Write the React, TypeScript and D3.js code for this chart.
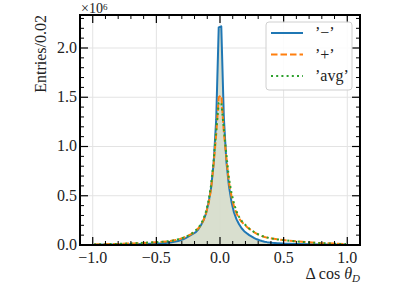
import { useEffect, useRef } from 'react';
import * as d3 from 'd3';

// bin centres (bin width 0.02), sparse in the flat tails
const xCentres = [
  -0.99, -0.9, -0.8, -0.7, -0.6, -0.5, -0.45,
  -0.41, -0.39, -0.37, -0.35, -0.33, -0.31, -0.29, -0.27, -0.25, -0.23, -0.21,
  -0.19, -0.17, -0.15, -0.13, -0.11, -0.09, -0.07, -0.05, -0.03, -0.01,
  0.01, 0.03, 0.05, 0.07, 0.09, 0.11, 0.13, 0.15, 0.17, 0.19, 0.21,
  0.23, 0.25, 0.27, 0.29, 0.31, 0.33, 0.35, 0.37, 0.39, 0.41,
  0.45, 0.5, 0.6, 0.7, 0.8, 0.9, 0.99,
];

// entries / 0.02, in units of 1e6
const minusVals = [
  0.003, 0.004, 0.005, 0.007, 0.01, 0.015, 0.018,
  0.022, 0.026, 0.03, 0.035, 0.041, 0.049, 0.058, 0.07, 0.085, 0.1, 0.115,
  0.13, 0.16, 0.2, 0.25, 0.32, 0.43, 0.58, 0.83, 1.27, 2.21,
  2.22, 1.3, 0.85, 0.6, 0.44, 0.33, 0.26, 0.21, 0.17, 0.14, 0.12,
  0.1, 0.085, 0.07, 0.058, 0.048, 0.04, 0.034, 0.029, 0.025, 0.022,
  0.018, 0.014, 0.01, 0.007, 0.005, 0.004, 0.003,
];
const plusVals = [
  0.006, 0.008, 0.011, 0.015, 0.021, 0.028, 0.032,
  0.037, 0.04, 0.045, 0.05, 0.056, 0.063, 0.072, 0.082, 0.094, 0.108, 0.125,
  0.145, 0.17, 0.2, 0.25, 0.32, 0.42, 0.57, 0.82, 1.12, 1.5,
  1.52, 1.15, 0.88, 0.64, 0.5, 0.39, 0.32, 0.27, 0.235, 0.21, 0.185,
  0.163, 0.145, 0.128, 0.113, 0.1, 0.09, 0.082, 0.075, 0.07, 0.065,
  0.058, 0.05, 0.037, 0.027, 0.019, 0.014, 0.01,
];
const avgVals = [
  0.006, 0.008, 0.011, 0.016, 0.022, 0.029, 0.033,
  0.038, 0.041, 0.046, 0.052, 0.058, 0.065, 0.074, 0.084, 0.096, 0.11, 0.128,
  0.15, 0.175, 0.21, 0.265, 0.34, 0.45, 0.61, 0.86, 1.16, 1.44,
  1.45, 1.18, 0.92, 0.68, 0.53, 0.42, 0.34, 0.285, 0.245, 0.215, 0.19,
  0.167, 0.148, 0.13, 0.115, 0.102, 0.092, 0.083, 0.076, 0.07, 0.065,
  0.057, 0.049, 0.036, 0.026, 0.018, 0.013, 0.009,
];

const xTicks = [-1.0, -0.5, 0.0, 0.5, 1.0];
const yTicks = [0.0, 0.5, 1.0, 1.5, 2.0];
const legendLabels = ['’−’', '’+’', '’avg’'];

const SERIES = [
  { vals: minusVals, color: '#1f77b4', dash: null },
  { vals: plusVals, color: '#ff7f0e', dash: '6.5,3' },
  { vals: avgVals, color: '#2ca02c', dash: '2,3.2' },
];

const FONT = '"Liberation Serif", "DejaVu Serif", serif';
const FS = 16;

export default function App() {
  const ref = useRef<SVGSVGElement>(null);

  useEffect(() => {
    if (!ref.current) return;
    const svg = d3.select(ref.current);
    svg.selectAll('*').remove();

    const W = 399, H = 299;
    const m = { left: 80, right: 39, top: 15, bottom: 54 };
    const iw = W - m.left - m.right;
    const ih = H - m.top - m.bottom;

    svg.attr('width', W).attr('height', H);

    const x = d3.scaleLinear().domain([-1.1, 1.1]).range([0, iw]);
    const y = d3.scaleLinear().domain([0, 2.335]).range([ih, 0]);

    const g = svg.append('g').attr('transform', `translate(${m.left},${m.top})`);

    g.append('clipPath').attr('id', 'plotclip')
      .append('rect').attr('width', iw).attr('height', ih);

    // grid
    g.selectAll('.gx').data(xTicks).enter().append('line')
      .attr('x1', d => x(d)).attr('x2', d => x(d)).attr('y1', 0).attr('y2', ih)
      .attr('stroke', '#e3e3e3').attr('stroke-width', 1);
    g.selectAll('.gy').data(yTicks).enter().append('line')
      .attr('x1', 0).attr('x2', iw).attr('y1', d => y(d)).attr('y2', d => y(d))
      .attr('stroke', '#e3e3e3').attr('stroke-width', 1);

    const plot = g.append('g').attr('clip-path', 'url(#plotclip)');

    // filled area under '−'
    const area = d3.area<number>()
      .x((_, i) => x(xCentres[i]))
      .y0(y(0))
      .y1(d => y(d));
    plot.append('path').datum(minusVals).attr('d', area)
      .attr('fill', '#d5dbca').attr('opacity', 0.9);

    const line = d3.line<number>()
      .x((_, i) => x(xCentres[i]))
      .y(d => y(d));

    SERIES.forEach(s => {
      plot.append('path').datum(s.vals).attr('d', line)
        .attr('fill', 'none').attr('stroke', s.color).attr('stroke-width', 2)
        .attr('stroke-dasharray', s.dash)
        .attr('stroke-linejoin', 'round');
    });

    // ticks (inward, all four sides)
    const xMinor = d3.range(-10, 11).map(i => i / 10);
    const yMinor = d3.range(0, 24).map(i => i / 10);
    const tick = (x1: number, y1: number, x2: number, y2: number, w: number) =>
      g.append('line').attr('x1', x1).attr('y1', y1).attr('x2', x2).attr('y2', y2)
        .attr('stroke', '#000').attr('stroke-width', w);

    xMinor.forEach(v => {
      const major = xTicks.some(t => Math.abs(t - v) < 1e-9);
      const len = major ? 8 : 4;
      tick(x(v), ih, x(v), ih - len, major ? 1.2 : 1);
      tick(x(v), 0, x(v), len, major ? 1.2 : 1);
    });
    yMinor.forEach(v => {
      const major = yTicks.some(t => Math.abs(t - v) < 1e-9);
      const len = major ? 8 : 4;
      tick(0, y(v), len, y(v), major ? 1.2 : 1);
      tick(iw, y(v), iw - len, y(v), major ? 1.2 : 1);
    });

    // frame
    g.append('rect').attr('width', iw).attr('height', ih)
      .attr('fill', 'none').attr('stroke', '#000').attr('stroke-width', 2);

    // tick labels
    const fmt = (v: number) => v.toFixed(1).replace('-', '−');
    g.selectAll('.xl').data(xTicks).enter().append('text')
      .attr('x', d => x(d)).attr('y', ih + 18)
      .attr('text-anchor', 'middle')
      .attr('font-family', FONT).attr('font-size', FS).attr('fill', '#222')
      .text(d => fmt(d));
    g.selectAll('.yl').data(yTicks).enter().append('text')
      .attr('x', -3).attr('y', d => y(d) + 5)
      .attr('text-anchor', 'end')
      .attr('font-family', FONT).attr('font-size', FS).attr('fill', '#222')
      .text(d => fmt(d));

    // multiplier
    const mult = svg.append('text').attr('x', m.left + 1).attr('y', 13)
      .attr('font-family', FONT).attr('font-size', 14).attr('fill', '#222');
    mult.append('tspan').text('×10');
    mult.append('tspan').attr('font-size', 9).attr('dy', -3).text('6');

    // axis labels
    svg.append('text')
      .attr('transform', `translate(46,${m.top}) rotate(-90)`)
      .attr('text-anchor', 'end')
      .attr('font-family', FONT).attr('font-size', FS).attr('fill', '#222')
      .text('Entries/0.02');

    const xl = svg.append('text').attr('x', m.left + iw).attr('y', 279)
      .attr('text-anchor', 'end')
      .attr('font-family', FONT).attr('font-size', FS).attr('fill', '#222');
    xl.append('tspan').text('Δ cos ');
    xl.append('tspan').attr('font-style', 'italic').text('θ');
    xl.append('tspan').attr('font-style', 'italic').attr('font-size', 11).attr('dy', 3).text('D');

    // legend
    const lg = g.append('g').attr('transform', `translate(${iw - 94},7)`);
    lg.append('rect').attr('width', 86).attr('height', 68).attr('rx', 3)
      .attr('fill', '#fff').attr('fill-opacity', 0.85)
      .attr('stroke', '#d0d0d0').attr('stroke-width', 1);
    SERIES.forEach((s, i) => {
      const yy = 11 + i * 21.5;
      lg.append('line').attr('x1', 5).attr('x2', 37).attr('y1', yy).attr('y2', yy)
        .attr('stroke', s.color).attr('stroke-width', 2).attr('stroke-dasharray', s.dash);
      lg.append('text').attr('x', 49).attr('y', yy + 5)
        .attr('font-family', FONT).attr('font-size', FS).attr('fill', '#222')
        .text(legendLabels[i]);
    });
  }, []);

  return (
    <div style={{ position: 'absolute', left: 0, top: 0, width: 399, height: 299, background: '#fff' }}>
      <svg ref={ref} style={{ display: 'block' }} />
    </div>
  );
}
